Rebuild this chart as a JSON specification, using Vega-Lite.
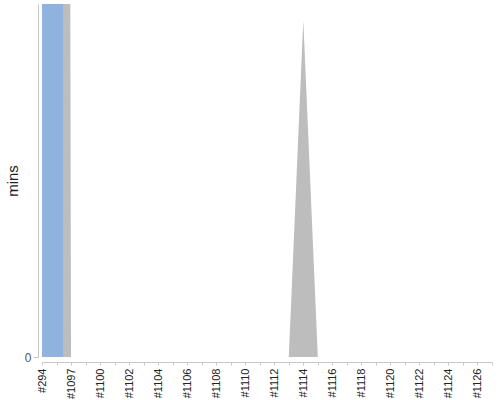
{
  "$schema": "https://vega.github.io/schema/vega-lite/v6.json",
  "autosize": {"type": "none"},
  "padding": {"left": 42, "top": 4, "right": 8, "bottom": 43},
  "width": 450,
  "height": 353,
  "data": {
    "values": [
      {"build": "#294", "mins": 2000, "bar": 2000},
      {"build": "#1095", "mins": 2000},
      {"build": "#1097", "mins": 0},
      {"build": "#1099", "mins": 0},
      {"build": "#1100", "mins": 0},
      {"build": "#1101", "mins": 0},
      {"build": "#1102", "mins": 0},
      {"build": "#1103", "mins": 0},
      {"build": "#1104", "mins": 0},
      {"build": "#1105", "mins": 0},
      {"build": "#1106", "mins": 0},
      {"build": "#1107", "mins": 0},
      {"build": "#1108", "mins": 0},
      {"build": "#1109", "mins": 0},
      {"build": "#1110", "mins": 0},
      {"build": "#1111", "mins": 0},
      {"build": "#1112", "mins": 0},
      {"build": "#1113", "mins": 0},
      {"build": "#1114", "mins": 95.5},
      {"build": "#1115", "mins": 0},
      {"build": "#1116", "mins": 0},
      {"build": "#1117", "mins": 0},
      {"build": "#1118", "mins": 0},
      {"build": "#1119", "mins": 0},
      {"build": "#1120", "mins": 0},
      {"build": "#1121", "mins": 0},
      {"build": "#1122", "mins": 0},
      {"build": "#1123", "mins": 0},
      {"build": "#1124", "mins": 0},
      {"build": "#1125", "mins": 0},
      {"build": "#1126", "mins": 0},
      {"build": "#1127", "mins": 0}
    ]
  },
  "encoding": {
    "x": {
      "field": "build",
      "type": "ordinal",
      "sort": null,
      "scale": {"type": "point", "padding": 0},
      "axis": {
        "title": null,
        "offset": 5,
        "labelAngle": 270,
        "labelAlign": "right",
        "labelBaseline": "middle",
        "labelPadding": 3,
        "tickSize": 3,
        "labelExpr": "indexof(['#294','#1097','#1100','#1102','#1104','#1106','#1108','#1110','#1112','#1114','#1116','#1118','#1120','#1122','#1124','#1126'], datum.value) >= 0 ? datum.label : ''"
      }
    }
  },
  "layer": [
    {
      "mark": {"type": "area", "color": "#bdbdbd", "opacity": 1, "clip": true},
      "encoding": {
        "y": {
          "field": "mins",
          "type": "quantitative",
          "scale": {"domain": [0, 100]},
          "axis": {
            "title": "mins",
            "values": [0],
            "offset": 4,
            "tickSize": 5,
            "titlePadding": 4
          }
        }
      }
    },
    {
      "mark": {"type": "bar", "color": "#8fb3de", "size": 21, "xOffset": 10.5, "clip": true},
      "transform": [{"filter": "datum.bar != null"}],
      "encoding": {
        "y": {"field": "bar", "type": "quantitative"}
      }
    }
  ],
  "config": {
    "view": {"stroke": null},
    "font": "Liberation Sans",
    "axis": {
      "grid": false,
      "domainColor": "#c8c8c8",
      "tickColor": "#c8c8c8",
      "labelColor": "#222222",
      "labelFont": "Liberation Sans",
      "labelFontSize": 11,
      "titleFont": "Liberation Sans",
      "titleFontSize": 15,
      "titleFontWeight": "normal",
      "titleColor": "#222222"
    },
    "axisY": {"labelColor": "#555555", "labelFontSize": 12}
  }
}
